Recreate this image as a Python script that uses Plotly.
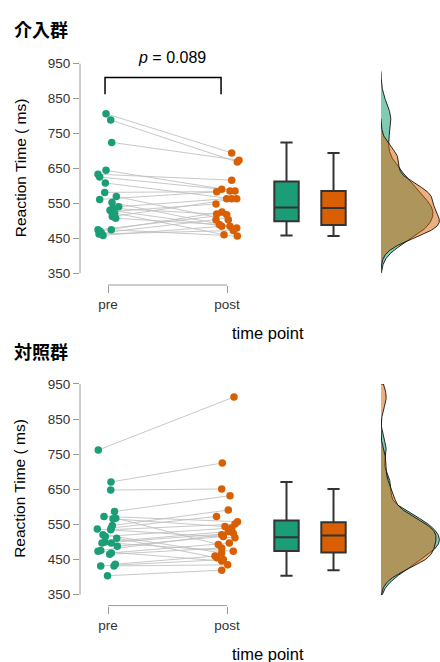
import numpy as np
import plotly.graph_objects as go

# ---------------- data ----------------
groups = ["介入群", "対照群"]
time_labels = ["pre", "post"]
y_ticks = [350, 450, 550, 650, 750, 850, 950]
p_text = "0.089"

# 介入群 (intervention), paired pre/post
int_pre = [806, 788, 724, 644, 633, 625, 608, 581, 569, 561, 552, 540,
           535, 530, 526, 522, 512, 507, 474, 474, 470, 465, 462, 458]
int_post = [694, 668, 673, 585, 616, 590, 563, 583, 503, 585, 484, 563,
            519, 479, 548, 460, 563, 489, 517, 456, 525, 503, 472, 484]
# horizontal jitter (pixels from category centre)
int_pre_jit = [-2, 2.7, 3.7, -2, -10, -8.3, -2.7, -3.3, 8.3, -8.3, 4, 10.7,
               5, 2, 3.3, 6.7, 4.3, 7.7, -10, 3.3, -8, -6.7, -9, -5]
int_post_jit = [4.7, 10.3, 12, 8, 4.7, -5.3, 4.7, -10.3, 1.3, 3, 3, -0.3,
                -10.3, 9.7, -11, -3, 9.7, -7.7, -0.3, 10.3, -5, -11, 6.3, -5.3]

# 対照群 (control), paired pre/post
ctl_pre = [762, 671, 648, 587, 573, 568, 566, 547, 540, 537, 535, 521, 516,
           511, 500, 497, 497, 488, 476, 474, 469, 465, 437, 432, 432, 404]
ctl_post = [913, 725, 651, 632, 558, 493, 544, 591, 573, 512, 551, 469, 540,
            455, 530, 525, 474, 516, 521, 446, 497, 483, 460, 450, 435, 420]
ctl_pre_jit = [-9.7, 3, 2.7, 6.5, -4, 7.7, 5, 4.3, 3.3, -10.7, 2.7, -5, -2.7,
               8.7, -3, -6, 3.3, 9.3, -7.3, -10, 3.3, 1.7, 7.3, -7.3, 6, -0.5]
ctl_post_jit = [7, -4.7, -5.3, 3, 10.5, -8.7, -2, 1.3, -10.5, 8, 8, -5.3, 4.7,
                -10, 1.3, 6.3, 6.3, -3.7, -5.3, -5.3, 2.3, -5.3, -12, -3.7, 0.7, -5.3]

GREEN = "#1B9E77"
ORANGE = "#D95F02"
GREEN_A = "rgba(27,158,119,0.55)"
ORANGE_A = "rgba(217,95,2,0.5)"

W, H = 440, 662
PX_PER_UNIT = 119.0  # x pixels between pre and post

def box_stats(v):
    v = np.sort(np.asarray(v, float))
    q1, med, q3 = np.percentile(v, [25, 50, 75])
    iqr = q3 - q1
    lf = v[v >= q1 - 1.5 * iqr].min()
    uf = v[v <= q3 + 1.5 * iqr].max()
    return q1, med, q3, lf, uf

def kde(v, lo_clip=350, hi_clip=950, n=400):
    v = np.asarray(v, float)
    sd = v.std(ddof=1)
    iqr = np.subtract(*np.percentile(v, [75, 25]))
    bw = 0.9 * min(sd, iqr / 1.34) * len(v) ** (-0.2)
    lo = max(lo_clip, v.min() - 3 * bw)
    hi = min(hi_clip, v.max() + 3 * bw)
    g = np.linspace(lo, hi, n)
    d = np.exp(-0.5 * ((g[:, None] - v[None, :]) / bw) ** 2).sum(1) / (len(v) * bw * np.sqrt(2 * np.pi))
    return g, d

fig = go.Figure()

panels = [
    dict(pre=int_pre, post=int_post, pj=int_pre_jit, qj=int_post_jit,
         top=57, bot=281, lo=316, title=groups[0], title_y=22, xt_y=329, pval=True),
    dict(pre=ctl_pre, post=ctl_post, pj=ctl_pre_jit, qj=ctl_post_jit,
         top=381, bot=605, lo=319, title=groups[1], title_y=348, xt_y=654, pval=False),
]

x_left = 1 - 28 / PX_PER_UNIT
x_right = 1 + (360 - 108) / PX_PER_UNIT
shapes = []
annotations = []

for i, P in enumerate(panels):
    xa = "x" if i == 0 else f"x{2*i+1}"
    ya = "y" if i == 0 else f"y{i+1}"
    xd = f"x{2*i+2}"
    pre, post = P["pre"], P["post"]
    xpre = [1 + j / PX_PER_UNIT for j in P["pj"]]
    xpost = [2 + j / PX_PER_UNIT for j in P["qj"]]

    # connecting lines
    lx, ly = [], []
    for a, b, c, d in zip(xpre, pre, xpost, post):
        lx += [a, c, None]
        ly += [b, d, None]
    fig.add_trace(go.Scatter(x=lx, y=ly, mode="lines", xaxis=xa, yaxis=ya,
                             line=dict(color="rgba(190,190,190,0.85)", width=1),
                             hoverinfo="skip", showlegend=False))
    fig.add_trace(go.Scatter(x=xpre, y=pre, mode="markers", xaxis=xa, yaxis=ya,
                             marker=dict(color=GREEN, size=7.5), showlegend=False,
                             cliponaxis=False))
    fig.add_trace(go.Scatter(x=xpost, y=post, mode="markers", xaxis=xa, yaxis=ya,
                             marker=dict(color=ORANGE, size=7.5), showlegend=False,
                             cliponaxis=False))
    # boxes
    for vals, xc, col in [(pre, 2.5, GREEN), (post, 2.895, ORANGE)]:
        q1, med, q3, lf, uf = box_stats(vals)
        fig.add_trace(go.Box(x=[xc], q1=[q1], median=[med], q3=[q3],
                             lowerfence=[lf], upperfence=[uf],
                             width=0.205, whiskerwidth=0.5, boxpoints=False,
                             fillcolor=col, line=dict(color="#333333", width=2),
                             xaxis=xa, yaxis=ya, showlegend=False))
    # densities
    dmax = 0
    dens = []
    for vals, fc in [(pre, GREEN_A), (post, ORANGE_A)]:
        g, d = kde(vals)
        dmax = max(dmax, d.max())
        dens.append((g, d, fc))
    for g, d, fc in dens:
        fig.add_trace(go.Scatter(x=np.concatenate([[0], d, [0]]),
                                 y=np.concatenate([[g[0]], g, [g[-1]]]),
                                 mode="lines", fill="toself", fillcolor=fc,
                                 line=dict(color="#111111", width=0.9),
                                 xaxis=xd, yaxis=ya, showlegend=False, hoverinfo="skip"))

    ydom = [1 - P["bot"] / H, 1 - P["top"] / H]
    yk = "yaxis" if i == 0 else f"yaxis{i+1}"
    xk = "xaxis" if i == 0 else f"xaxis{2*i+1}"
    xdk = f"xaxis{2*i+2}"
    fig.layout[yk] = dict(domain=ydom, range=[P["lo"], 950], anchor=xa,
                          tickvals=y_ticks, ticks="outside", ticklen=6,
                          tickcolor="#9a9a9a", showline=False, showgrid=False,
                          zeroline=False, tickfont=dict(size=13.5, color="#333333"))
    fig.layout[xk] = dict(domain=[80 / W, 360 / W], range=[x_left, x_right], anchor=ya,
                          tickvals=[1, 2], ticktext=time_labels, ticks="outside",
                          ticklen=7, tickcolor="#9a9a9a", showline=False,
                          showgrid=False, zeroline=False,
                          tickfont=dict(size=13.5, color="#333333"))
    fig.layout[xdk] = dict(domain=[381 / W, 1.0], range=[0, dmax * 1.01], anchor=ya,
                           visible=False)

    # axis lines (offset style)
    shapes.append(dict(type="line", xref=f"{xa} domain", x0=0, x1=0, yref=ya,
                       y0=350, y1=950, line=dict(color="#9a9a9a", width=1)))
    shapes.append(dict(type="line", xref=xa, x0=1, x1=2, yref=f"{ya} domain",
                       y0=0, y1=0, line=dict(color="#9a9a9a", width=1)))

    annotations.append(dict(text=f"<b>{P['title']}</b>", x=12 / W, y=1 - P["title_y"] / H,
                            xref="paper", yref="paper", xanchor="left", yanchor="middle",
                            showarrow=False,
                            font=dict(size=18, color="black", family="Noto Sans CJK JP")))
    annotations.append(dict(text="Reaction Time ( ms)", x=20 / W,
                            y=1 - (P["top"] + 106) / H, xref="paper", yref="paper",
                            textangle=-90, showarrow=False, xanchor="center", yanchor="middle",
                            font=dict(size=15.5, color="black")))
    annotations.append(dict(text="time point", x=268 / W, y=1 - P["xt_y"] / H,
                            xref="paper", yref="paper", showarrow=False,
                            xanchor="center", yanchor="middle",
                            font=dict(size=16.5, color="black")))
    if P["pval"]:
        shapes.append(dict(type="path", xref=xa, yref=ya,
                           path="M 0.975,862 L 0.975,910 L 1.95,910 L 1.95,862",
                           line=dict(color="black", width=1.5)))
        annotations.append(dict(text=f"<i>p</i> = {p_text}", x=172 / W, y=1 - 51 / H,
                                xref="paper", yref="paper", showarrow=False,
                                xanchor="center", yanchor="middle",
                                font=dict(size=16, color="black")))

fig.update_layout(width=W, height=H, margin=dict(l=0, r=0, t=0, b=0),
                  plot_bgcolor="white", paper_bgcolor="white",
                  font=dict(family="Liberation Sans, Arial, sans-serif"),
                  shapes=shapes, annotations=annotations, showlegend=False)

post_js = (
    "var h=document.documentElement, b=document.body;"
    "h.style.margin='0';h.style.padding='0';h.style.overflow='hidden';"
    "b.style.margin='0';b.style.padding='0';b.style.overflow='hidden';"
    "var gd=document.getElementById('{plot_id}');"
    "if(gd){gd.style.position='fixed';gd.style.top='0px';gd.style.left='0px';"
    "gd.style.width='440px';gd.style.height='662px';}"
    "h.style.height='662px';b.style.height='662px';"
)
fig.write_html("out.html", config={"displayModeBar": False}, post_script=post_js)
